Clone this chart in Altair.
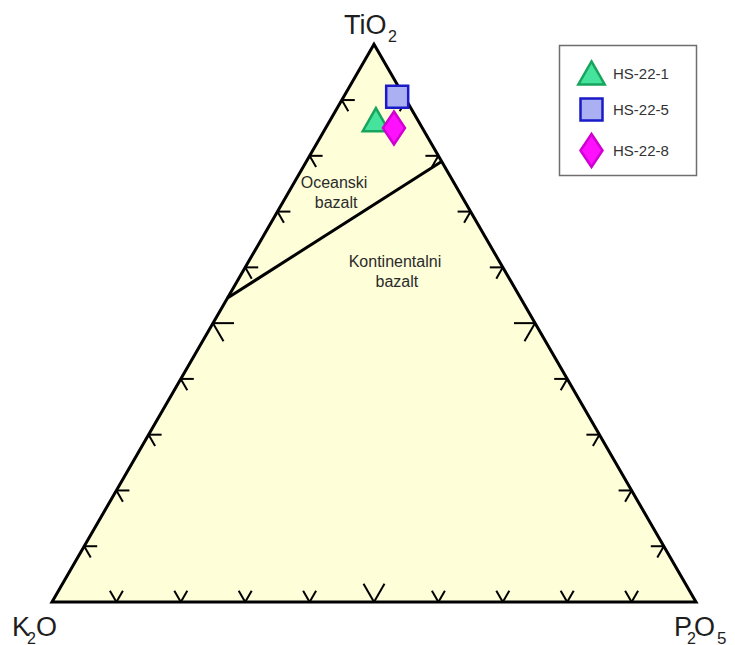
import math
import altair as alt
import pandas as pd

# ---------------- data ----------------
samples = ["HS-22-1", "HS-22-5", "HS-22-8"]
tio2 = [86.4, 90.6, 85.0]
k2o = [6.5, 1.1, 4.4]
p2o5 = [7.1, 8.3, 10.6]

# discriminant line (TiO2, K2O, P2O5) end points
line_tio2 = [54.5, 79.0]
line_k2o = [45.5, 0.0]
line_p2o5 = [0.0, 21.0]

# region labels: text and ternary position (TiO2, K2O, P2O5) of the baseline centre
region_text = ["Oceanski", "bazalt", "Kontinentalni", "bazalt"]
region_tio2 = [74.2, 70.65, 60.1, 56.5]
region_k2o = [19.1, 20.55, 16.7, 18.2]
region_p2o5 = [6.7, 8.8, 23.2, 25.3]

tick_fracs = [0.1, 0.2, 0.3, 0.4, 0.5, 0.6, 0.7, 0.8, 0.9]

sample_shapes = [
    "M0,-1.1L1.2,1L-1.2,1Z",
    "M-1,-1L1,-1L1,1L-1,1Z",
    "M0,-1.5L1,0L0,1.5L-1,0Z",
]
sample_fill = ["#46e39c", "#aab0f2", "#ff10ff"]
sample_stroke = ["#17a45c", "#1a1ac8", "#d000d0"]

# ---------------- geometry helpers ----------------
H = math.sqrt(3) / 2
PX = 644.0  # pixels per unit side


def tern(t, k, p):
    s = t + k + p
    t, p = t / s, p / s
    return p + t / 2, t * H


pts = pd.DataFrame({"sample": samples, "t": tio2, "k": k2o, "p": p2o5})
pts["x"], pts["y"] = zip(*[tern(a, b, c) for a, b, c in zip(tio2, k2o, p2o5)])

lin = pd.DataFrame({"t": line_tio2, "k": line_k2o, "p": line_p2o5})
lin["x"], lin["y"] = zip(*[tern(a, b, c) for a, b, c in zip(line_tio2, line_k2o, line_p2o5)])
seg = pd.DataFrame({"x": [lin.x[0]], "y": [lin.y[0]], "x2": [lin.x[1]], "y2": [lin.y[1]]})

reg = pd.DataFrame({"text": region_text})
reg["x"], reg["y"] = zip(*[tern(a, b, c) for a, b, c in zip(region_tio2, region_k2o, region_p2o5)])

verts = pd.DataFrame({"x": [0.0, 0.5, 1.0], "y": [0.0, H, 0.0]})
outline = pd.DataFrame({"x": [0.0, 0.5, 1.0, 0.0, 0.5], "y": [0.0, H, 0.0, 0.0, H], "o": [0, 1, 2, 3, 4]})

# ticks: two short arms from each edge point along the other grid directions
rows = []
c60, s60 = 0.5, H
for f in tick_fracs:
    L = (21.0 if abs(f - 0.5) < 1e-9 else 13.0) / PX
    # bottom edge
    bx, by = f, 0.0
    for dx, dy in [(c60, s60), (-c60, s60)]:
        rows.append((bx, by, bx + L * dx, by + L * dy))
    # left edge
    lx, ly = f / 2, f * H
    for dx, dy in [(1.0, 0.0), (c60, -s60)]:
        rows.append((lx, ly, lx + L * dx, ly + L * dy))
    # right edge
    rx, ry = 1 - f / 2, f * H
    for dx, dy in [(-1.0, 0.0), (-c60, -s60)]:
        rows.append((rx, ry, rx + L * dx, ry + L * dy))
ticks = pd.DataFrame(rows, columns=["x", "y", "x2", "y2"])

# ---------------- scales ----------------
W, HGT = 719, 637
x0 = -44.0 / PX
y1 = 594.0 / PX
xs = alt.Scale(domain=[x0, x0 + W / PX], nice=False, zero=False)
ys = alt.Scale(domain=[y1 - HGT / PX, y1], nice=False, zero=False)
X = lambda f="x": alt.X(f, type="quantitative", scale=xs, axis=None)
Y = lambda f="y": alt.Y(f, type="quantitative", scale=ys, axis=None)

FONT = "Liberation Sans"

fill = alt.Chart(verts).mark_area(color="#fefed9").encode(x=X(), y=Y(), y2=alt.datum(0))

edge = alt.Chart(outline).mark_line(color="black", strokeWidth=3, strokeJoin="miter", strokeCap="butt").encode(
    x=X(), y=Y(), order="o:Q"
)

tick_layer = alt.Chart(ticks).mark_rule(color="black", strokeWidth=2).encode(
    x=X(), y=Y(), x2="x2:Q", y2="y2:Q"
)

disc = alt.Chart(seg).mark_rule(color="black", strokeWidth=3).encode(x=X(), y=Y(), x2="x2:Q", y2="y2:Q")

region = alt.Chart(reg).mark_text(
    font=FONT, fontSize=16, color="#2b2b2b", align="center", baseline="alphabetic"
).encode(x=X(), y=Y(), text="text:N")

leg = alt.Legend(
    title=None, orient="none", legendX=571, legendY=53, symbolSize=484, symbolStrokeWidth=2.5,
    labelFontSize=15, labelFont=FONT, labelColor="#333333", labelOffset=9, rowPadding=3,
    padding=0, symbolOpacity=1,
)

frame = alt.Chart(pd.DataFrame({"a": [0]})).mark_rect(fill="white", stroke="#6e6e6e", strokeWidth=1.5).encode(
    x=alt.value(551.5), x2=alt.value(688.5), y=alt.value(37.5), y2=alt.value(167.5)
)

points = alt.Chart(pts).mark_point(filled=True, size=484, opacity=1, fillOpacity=1, strokeWidth=2.5).encode(
    x=X(), y=Y(),
    shape=alt.Shape("sample:N", scale=alt.Scale(domain=samples, range=sample_shapes), legend=leg),
    fill=alt.Fill("sample:N", scale=alt.Scale(domain=samples, range=sample_fill), legend=leg),
    stroke=alt.Stroke("sample:N", scale=alt.Scale(domain=samples, range=sample_stroke), legend=leg),
)


def vlabel(vx, vy, text, dx, dy, size):
    return alt.Chart(pd.DataFrame({"x": [vx], "y": [vy], "t": [text]})).mark_text(
        font=FONT, fontSize=size, color="#1e1e1e", align="left", baseline="alphabetic", dx=dx, dy=dy
    ).encode(x=X(), y=Y(), text="t:N")


labels = [
    vlabel(0.5, H, "TiO", -30, -10, 27),
    vlabel(0.5, H, "2", 14, -2, 16),
    vlabel(0.0, 0.0, "K", -40, 34, 27),
    vlabel(0.0, 0.0, "2", -25, 42, 16),
    vlabel(0.0, 0.0, "O", -16, 34, 27),
    vlabel(1.0, 0.0, "P", -22, 34, 27),
    vlabel(1.0, 0.0, "2", -9, 42, 16),
    vlabel(1.0, 0.0, "O", -2, 34, 27),
    vlabel(1.0, 0.0, "5", 21, 42, 17),
]

chart = alt.layer(fill, tick_layer, disc, edge, region, frame, points, *labels).properties(
    width=W, height=HGT, padding=0, autosize=alt.AutoSizeParams(type="none"), background="white"
).configure_view(stroke=None)

chart.save("out.html", embed_options={"renderer": "svg", "actions": False})
